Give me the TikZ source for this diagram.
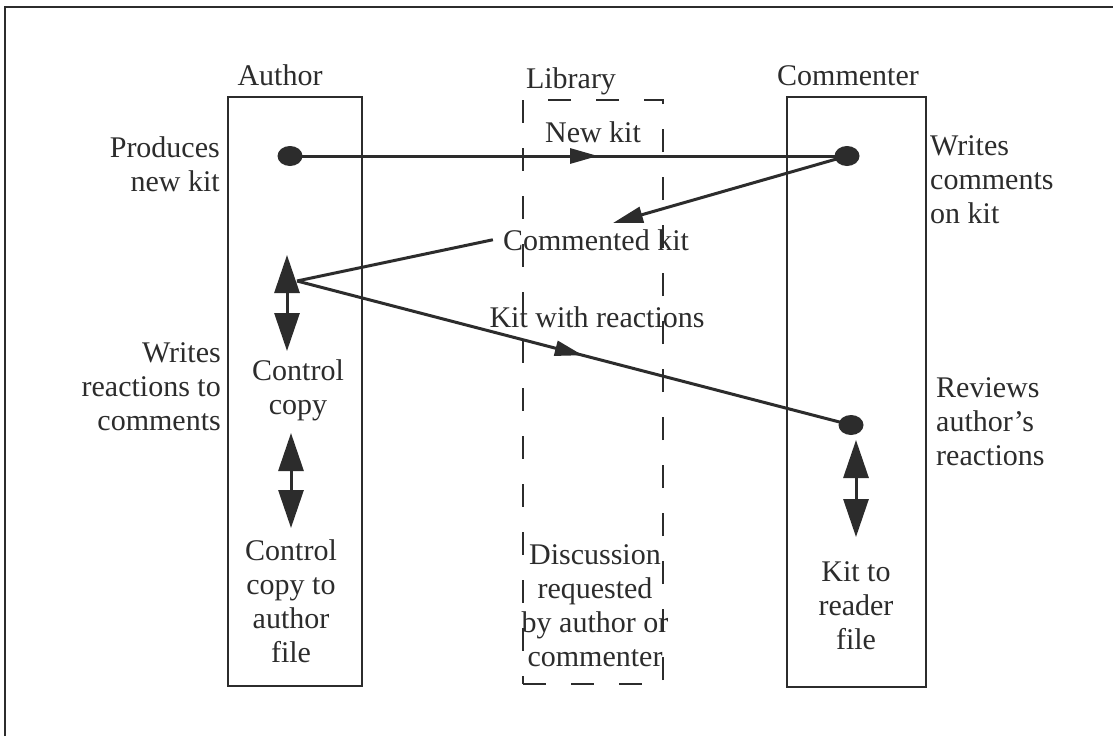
\documentclass[tikz,border=0pt]{standalone}
\usepackage{fontspec}
\setmainfont{Liberation Serif}
\usetikzlibrary{arrows.meta,decorations.markings,shapes.geometric}
\definecolor{ink}{HTML}{2c2c2c}
\begin{document}
\begin{tikzpicture}[x=1pt,y=-1pt,
  lbl/.style={font=\fontsize{30}{34}\selectfont, text=ink, inner sep=0pt},
  lane/.style={draw=ink, line width=2.6pt, inner sep=0pt},
  libl/.style={draw=ink, line width=2.4pt, inner sep=0pt, dash pattern=on 23pt off 25pt},
  dot/.style={ellipse, fill=ink, minimum width=25pt, minimum height=20pt, inner sep=0pt},
  flow/.style={draw=ink, color=ink, line width=3pt},
  dbl/.style={draw=ink, line width=3pt, {Triangle[length=38pt,width=25pt]}-{Triangle[length=38pt,width=25pt]}},
  midarrow/.style={flow, postaction={decorate}, decoration={markings, mark=at position #1 with {\arrow{Triangle[length=28pt,width=15pt]}}}},
]
\useasboundingbox (0,0) rectangle (1113,736);
\fill[white] (0,0) rectangle (1113,736);
% outer frame (cropped)
\draw[ink, line width=2.5pt] (5,736) -- (5,7) -- (1113,7);

% lanes
\node[lane, minimum width=134pt, minimum height=589pt] (authorbox) at (295,391.5) {};
\node[libl, minimum width=140pt, minimum height=584pt] (libbox) at (593,392) {};
\node[lane, minimum width=139pt, minimum height=590pt] (combox) at (856.5,392) {};

% lane titles
\node[lbl, anchor=base] (authorlbl) at (280,85) {Author};
\node[lbl, anchor=base] (liblbl) at (571,88) {Library};
\node[lbl, anchor=base] (comlbl) at (848,85) {Commenter};

% side labels
\node[lbl, anchor=north east, align=right] (produces) at (220,136.5) {Produces\\new kit};
\node[lbl, anchor=north east, align=right] (writesreact) at (221,342.5) {Writes\\reactions to\\comments};
\node[lbl, anchor=north west, align=left] (writescom) at (930,135.5) {Writes\\comments\\on kit};
\node[lbl, anchor=north west, align=left] (reviews) at (936,377.5) {Reviews\\author's\\reactions};

% in-lane texts
\node[lbl, anchor=north, align=center] (cc) at (298,359.5) {Control\\copy};
\node[lbl, anchor=north, align=center] (cca) at (291,539.5) {Control\\copy to\\author\\file};
\node[lbl, anchor=north, align=center] (disc) at (595,544.5) {Discussion\\requested\\by author or\\commenter};
\node[lbl, anchor=north, align=center] (ktr) at (856,561.5) {Kit to\\reader\\file};

% flow labels
\node[lbl, anchor=base] (newkit) at (593,142) {New kit};
\node[lbl, anchor=base, inner xsep=10pt] (ck) at (596,250) {Commented kit};
\node[lbl, anchor=base] (kwr) at (597,327) {Kit with reactions};

% dots and points
\node[dot] (ad) at (290,156) {};
\node[dot] (cd1) at (847,156) {};
\node[dot] (cd2) at (851,425) {};
\coordinate (ap) at (297,281);
\coordinate (cktip) at (613,223);

% flows
\draw[midarrow=0.553] (ad.center) -- (cd1.center);
\draw[flow, -{Triangle[length=30pt,width=16pt]}] (cd1.center) -- (cktip);
\draw[flow] (ck.west) -- (ap);
\draw[midarrow=0.516] (ap) -- (cd2.center);

% double arrows
\coordinate (d1a) at (287,255); \coordinate (d1b) at (287,351);
\coordinate (d2a) at (291,433); \coordinate (d2b) at (291,528);
\coordinate (d3a) at (856,440); \coordinate (d3b) at (856,537);
\draw[dbl] (d1a) -- (d1b);
\draw[dbl] (d2a) -- (d2b);
\draw[dbl] (d3a) -- (d3b);
\end{tikzpicture}
\end{document}
